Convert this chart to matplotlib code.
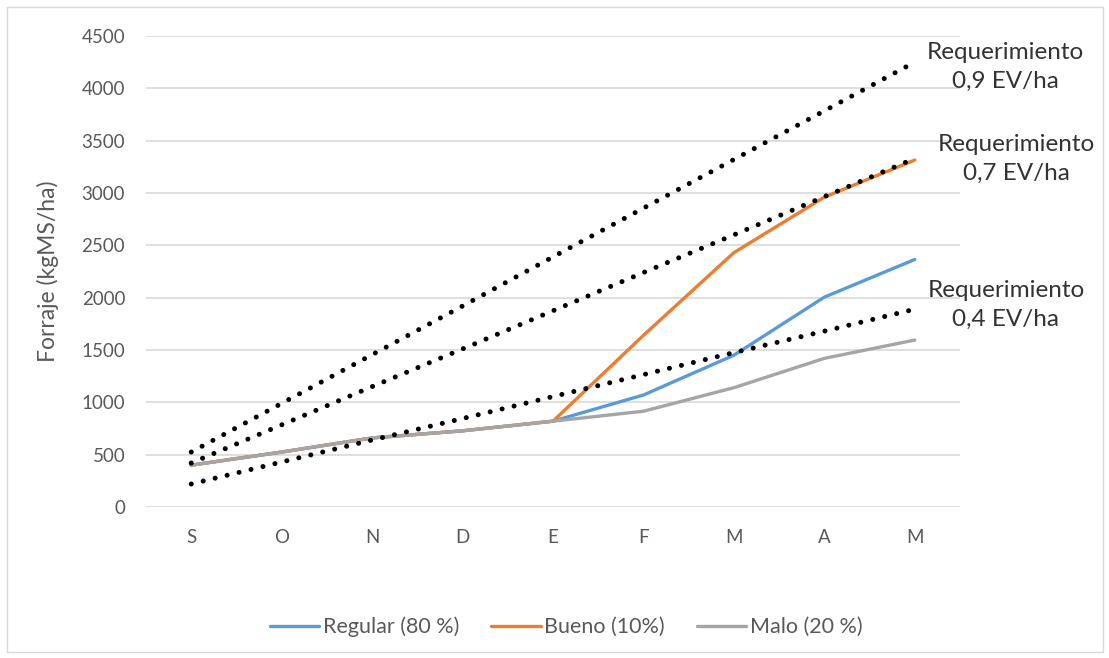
import matplotlib
matplotlib.use("Agg")
import matplotlib.pyplot as plt
from matplotlib.patches import Rectangle

plt.rcParams['font.family'] = ['Lato', 'DejaVu Sans']

# Months (Sept -> May)
months = ["S", "O", "N", "D", "E", "F", "M", "A", "M"]

# Forage availability by year type (kg DM/ha)
regular = [400, 525, 660, 728, 820, 1070, 1450, 2005, 2365]
bueno = [400, 525, 660, 728, 820, 1640, 2430, 2960, 3315]
malo = [400, 525, 660, 728, 820, 915, 1140, 1420, 1595]

# Cumulative requirement lines for each stocking rate
req_09 = [525, 990, 1455, 1920, 2390, 2855, 3320, 3785, 4250]
req_07 = [420, 785, 1150, 1510, 1875, 2240, 2600, 2965, 3330]
req_04 = [220, 430, 640, 845, 1055, 1265, 1475, 1680, 1890]

W, H = 1109, 658
fig = plt.figure(figsize=(W / 100, H / 100), dpi=100)
fig.add_artist(Rectangle((7 / W, 6 / H), 1096 / W, 645 / H, transform=fig.transFigure,
                         fill=False, edgecolor="#d9d9d9", linewidth=1))

ax = fig.add_axes([146 / W, (H - 507) / H, 814 / W, 471 / H])
x = list(range(len(months)))

grey_txt = "#595959"
ax.set_ylim(0, 4500)
ax.set_xlim(-0.5, len(months) - 0.5)
ax.set_yticks(range(0, 4501, 500))
ax.set_xticks(x)
ax.set_xticklabels(months)
ax.grid(axis="y", color="#d9d9d9", linewidth=1.2)
ax.set_axisbelow(True)
for s in ax.spines.values():
    s.set_visible(False)
ax.tick_params(axis="both", length=0, labelsize=13.5, labelcolor=grey_txt)
ax.tick_params(axis="y", pad=15)
ax.tick_params(axis="x", pad=16)
ax.set_ylabel("Forraje (kgMS/ha)", fontsize=16.5, color=grey_txt)
ax.yaxis.set_label_coords(-0.107, 0.5)

lw = 2.4
ax.plot(x, regular, color="#5b9bd5", linewidth=lw, solid_capstyle="round", zorder=3, label="Regular (80 %)")
ax.plot(x, bueno, color="#ed7d31", linewidth=lw, solid_capstyle="round", zorder=3, label="Bueno (10%)")
ax.plot(x, malo, color="#a5a5a5", linewidth=lw, solid_capstyle="round", zorder=4, label="Malo (20 %)")

dot_style = dict(color="black", linewidth=3.6, dashes=(0.01, 2.45),
                 dash_capstyle="round", zorder=5)
for req in (req_09, req_07, req_04):
    ax.plot(x, req, **dot_style)

txt_style = dict(fontsize=17.5, color="#333333", ha="center", va="center",
                 multialignment="center", linespacing=1.5)
fig.text(1005 / W, 1 - 67 / H, "Requerimiento\n0,9 EV/ha", **txt_style)
fig.text(1016 / W, 1 - 159 / H, "Requerimiento\n0,7 EV/ha", **txt_style)
fig.text(1006 / W, 1 - 305 / H, "Requerimiento\n0,4 EV/ha", **txt_style)

leg = ax.legend(loc="center", bbox_to_anchor=(566 / W, 1 - 627 / H),
                bbox_transform=fig.transFigure, ncol=3,
                frameon=False, fontsize=15.5, handlelength=2.3, handletextpad=0.15,
                columnspacing=1.5)
for t in leg.get_texts():
    t.set_color(grey_txt)

fig.savefig("out.png", dpi=100)
